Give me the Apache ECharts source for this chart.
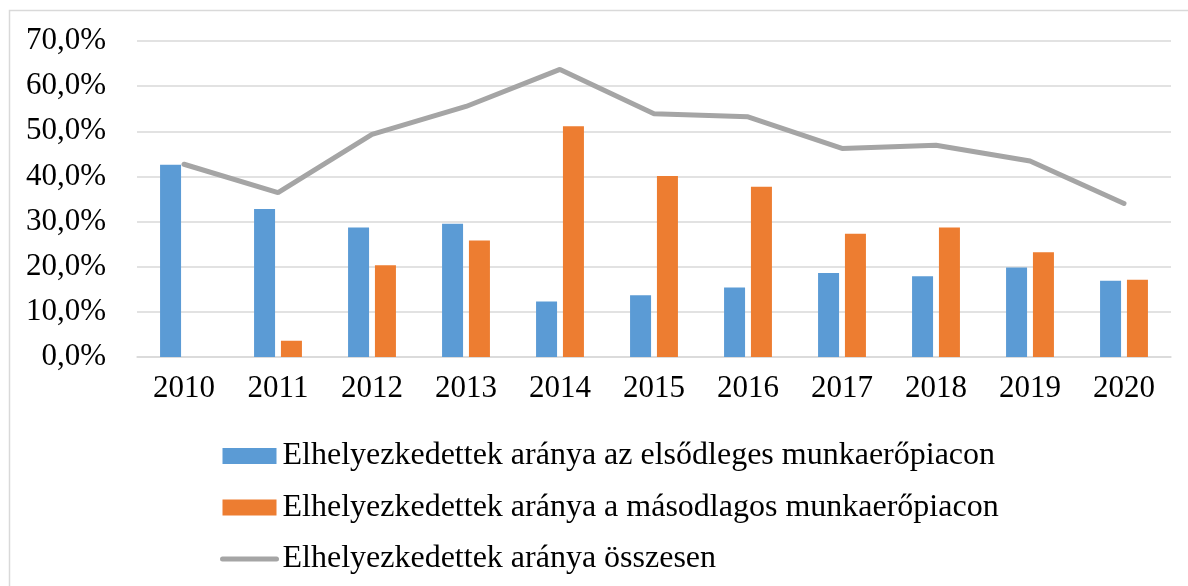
<!DOCTYPE html>
<html><head><meta charset="utf-8">
<script src="https://cdn.jsdelivr.net/npm/echarts@6/dist/echarts.min.js"></script>
<style>html,body{margin:0;padding:0;background:#fff}#c{width:1188px;height:586px}</style>
</head><body><div id="c"></div>
<script>
const years = ['2010','2011','2012','2013','2014','2015','2016','2017','2018','2019','2020'];
const primary = [42.6, 32.8, 28.7, 29.5, 12.3, 13.7, 15.4, 18.6, 17.9, 19.8, 16.9];
const secondary = [null, 3.6, 20.3, 25.8, 51.1, 40.1, 37.7, 27.3, 28.7, 23.2, 17.1];
const total = [42.7, 36.4, 49.3, 55.5, 63.7, 53.9, 53.2, 46.2, 46.9, 43.4, 34.0];
const names = ['Elhelyezkedettek aránya az elsődleges munkaerőpiacon',
               'Elhelyezkedettek aránya a másodlagos munkaerőpiacon',
               'Elhelyezkedettek aránya összesen'];
const font = '"Liberation Serif", "Times New Roman", serif';
const chart = echarts.init(document.getElementById('c'));
chart.setOption({
  animation: false,
  textStyle: {fontFamily: font},
  graphic: [{type:'rect', shape:{x:9.5, y:10.5, width:1200, height:600}, style:{fill:'none', stroke:'#D9D9D9', lineWidth:1.5}, silent:true}],
  grid: {left: 137, right: 17, top: 41, height: 316},
  legend: {
    orient: 'vertical', left: 220, top: 438, padding: 0, itemWidth: 54, itemHeight: 16, itemGap: 15.5,
    textStyle: {fontFamily: font, fontSize: 32, color: '#000', lineHeight: 36, padding:[0,0,0,1]},
    data: [{name: names[0], icon: 'rect'}, {name: names[1], icon: 'rect'},
           {name: names[2], itemStyle: {opacity: 0}, lineStyle: {width: 5, cap: 'round', color: '#A5A5A5', opacity: 1}}]
  },
  xAxis: {
    type: 'category', data: years,
    axisLine: {lineStyle: {color: '#D9D9D9', width: 1.5}},
    axisTick: {show: false},
    axisLabel: {fontFamily: font, fontSize: 31, color: '#000', margin: 16}
  },
  yAxis: {
    type: 'value', min: 0, max: 70, interval: 10,
    axisLine: {show: false}, axisTick: {show: false},
    splitLine: {lineStyle: {color: '#D9D9D9', width: 1.5}},
    axisLabel: {fontFamily: font, fontSize: 31, color: '#000', margin: 31,
      formatter: v => v.toFixed(1).replace('.', ',') + '%'}
  },
  series: [
    {name: names[0], type: 'bar', data: primary, barWidth: 21, barGap: '28%', itemStyle: {color: '#5B9BD5'}},
    {name: names[1], type: 'bar', data: secondary, barWidth: 21, itemStyle: {color: '#ED7D31'}},
    {name: names[2], type: 'line', data: total, symbol: 'none', z: 5,
     lineStyle: {color: '#A5A5A5', width: 5, cap: 'round'}, itemStyle: {color: '#A5A5A5'}}
  ]
});
</script></body></html>
